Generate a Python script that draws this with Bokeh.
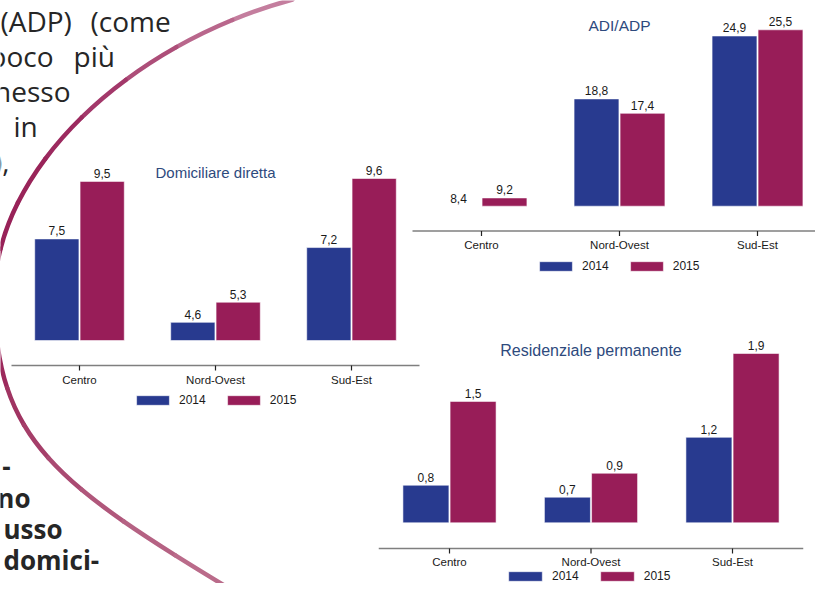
from bokeh.plotting import figure
from bokeh.models import Range1d, Legend, LegendItem, ColumnDataSource
from bokeh.core.properties import value
from bokeh.embed import file_html
from bokeh.resources import INLINE

# ---------------- data ----------------
categories = ["Centro", "Nord-Ovest", "Sud-Est"]
years = ["2014", "2015"]

dom_title = "Domiciliare diretta"
dom_2014 = [7.5, 4.6, 7.2]
dom_2015 = [9.5, 5.3, 9.6]

adi_title = "ADI/ADP"
adi_2014 = [8.4, 18.8, 24.9]
adi_2015 = [9.2, 17.4, 25.5]

res_title = "Residenziale permanente"
res_2014 = [0.8, 0.7, 1.2]
res_2015 = [1.5, 0.9, 1.9]

# background page text (fragments of the surrounding document)
para_words = ["(ADP)", "(come", "poco", "più", "nesso", "in", "),"]
bold_words = ["-", "no", "usso", "domici-"]

# ---------------- style ----------------
BLUE = "#283a8f"
MAGENTA = "#981d58"
TITLE_C = "#2e4a7d"
TXT = "#1a1a1a"
ARIAL = value("Liberation Sans")
OPEN = value("Open Sans")

W, H = 815, 583
PX_L, PX_R, PX_T, PX_B = 0, W, 0, H

p = figure(width=W, height=H, output_backend="svg", toolbar_location=None,
           x_range=Range1d(PX_L, PX_R), y_range=Range1d(PX_B, PX_T),
           x_axis_type=None, y_axis_type=None, min_border=0)
p.grid.visible = False
p.outline_line_color = None
p.background_fill_color = "white"
p.border_fill_color = "white"


def span_range(px_a, v_a, px_b, v_b, px_lo, px_hi):
    k = (v_b - v_a) / (px_b - px_a)
    return Range1d(start=v_a + (px_lo - px_a) * k, end=v_a + (px_hi - px_a) * k)


# ---------------- decorative arc (page design) ----------------
def lerp(a, b, t):
    return (a[0] + (b[0] - a[0]) * t, a[1] + (b[1] - a[1]) * t)


def split(c, t):
    a = lerp(c[0], c[1], t); b = lerp(c[1], c[2], t); d = lerp(c[2], c[3], t)
    e = lerp(a, b, t); f = lerp(b, d, t); g = lerp(e, f, t)
    return [c[0], a, e, g], [g, f, d, c[3]]


def piece(c, t0, t1):
    left, _ = split(c, t1)
    if t0 <= 0:
        return left
    _, right = split(left, t0 / t1)
    return right


arc_top = [(292, -1), (127, 44), (-6, 170), (-6, 295)]
arc_bot = [(-6, 295), (-6, 440), (57, 484), (237, 593)]
arc_cols = ["#c47e9e", "#b9678c", "#ad4e79", "#a3386a", "#9c2a5f", "#992459", "#982258", "#992459",
            "#9a2459", "#9c295c", "#a03462", "#a53e69", "#aa4a72", "#b0577b", "#b56283", "#ba6b8a"]
segs = []
n = 8
for curve in (arc_top, arc_bot):
    for k in range(n):
        segs.append(piece(curve, k / n, (k + 1) / n))
arc_src = ColumnDataSource(dict(
    x0=[s[0][0] for s in segs], y0=[s[0][1] for s in segs],
    cx0=[s[1][0] for s in segs], cy0=[s[1][1] for s in segs],
    cx1=[s[2][0] for s in segs], cy1=[s[2][1] for s in segs],
    x1=[s[3][0] for s in segs], y1=[s[3][1] for s in segs],
    c=arc_cols))
p.bezier(x0="x0", y0="y0", x1="x1", y1="y1", cx0="cx0", cy0="cy0", cx1="cx1", cy1="cy1",
         source=arc_src, line_color="c", line_width=4.5, line_cap="round")

# ---------------- background paragraph text ----------------
para_x = [0, 90, 53, 73, 70, 13, 9]
para_y = [20, 20, 55, 55, 90, 125, 160]
para_al = ["left", "left", "right", "left", "right", "left", "right"]
p.text(x=para_x, y=para_y, text=para_words, text_align=para_al, text_baseline="middle",
       text_font=OPEN, text_font_size="28px", text_color="#262626")

bold_x = [10, 30, 3, 3]
bold_y = [466, 497, 528, 559]
bold_al = ["right", "right", "left", "left"]
p.text(x=bold_x, y=bold_y, text=bold_words, text_align=bold_al, text_baseline="middle",
       text_font=OPEN, text_font_size="26px", text_font_style="bold", text_color="#262626")

# ---------------- the three bar charts ----------------
charts = [
    dict(key="dom", title=dom_title, v14=dom_2014, v15=dom_2015,
         x_first=79, x_last=351, base=3.97, base_px=340, ref_val=9.6, ref_px=178,
         axis_px=365, cat_px=379, title_px=172, title_size="15px", cat_size="11.5px",
         legend=(132, 407), glyph_w=41, spacing=17),
    dict(key="adi", title=adi_title, v14=adi_2014, v15=adi_2015,
         x_first=481, x_last=757, base=8.4, base_px=205.7, ref_val=25.5, ref_px=29.3,
         axis_px=230.5, cat_px=244, title_px=25, title_size="15.5px", cat_size="11.5px",
         legend=(535, 273), glyph_w=41, spacing=17),
    dict(key="res", title=res_title, v14=res_2014, v15=res_2015,
         x_first=449, x_last=732, base=0.486, base_px=522.3, ref_val=1.9, ref_px=353,
         axis_px=548, cat_px=561.5, title_px=350, title_size="16px", cat_size="11.5px",
         legend=(504, 583), glyph_w=42, spacing=17),
]

DODGE = 1 / 6
BAR_W = 0.325
LABEL_LIFT = -8   # screen px; negative lifts the value label above the bar top


def fmt(v):
    return f"{v:.1f}".replace(".", ",")


for ch in charts:
    xn, yn = "x_" + ch["key"], "y_" + ch["key"]
    ncat = len(categories)
    p.extra_x_ranges[xn] = span_range(ch["x_first"], 0, ch["x_last"], ncat - 1, PX_L, PX_R)
    p.extra_y_ranges[yn] = span_range(ch["base_px"], ch["base"], ch["ref_px"], ch["ref_val"], PX_B, PX_T)
    idx = list(range(ncat))
    xs14 = [i - DODGE for i in idx]
    xs15 = [i + DODGE for i in idx]

    # category axis line, ticks and labels
    p.segment(x0=[-0.5], x1=[ncat - 0.5], y0=[ch["axis_px"]], y1=[ch["axis_px"]],
              x_range_name=xn, line_color="#7f7f7f", line_width=1.6)
    p.segment(x0=idx, x1=idx, y0=[ch["axis_px"]] * ncat, y1=[ch["axis_px"] + 5] * ncat,
              x_range_name=xn, line_color="#222222", line_width=1.2)
    p.text(x=idx, y=[ch["cat_px"]] * ncat, text=categories, x_range_name=xn,
           text_align="center", text_baseline="middle", text_font=ARIAL,
           text_font_size=ch["cat_size"], text_color=TXT)

    # bars
    r14 = p.vbar(x=xs14, top=ch["v14"], bottom=ch["base"], width=BAR_W,
                 x_range_name=xn, y_range_name=yn, fill_color=BLUE,
                 line_color="white", line_alpha=0.55, line_width=1)
    r15 = p.vbar(x=xs15, top=ch["v15"], bottom=ch["base"], width=BAR_W,
                 x_range_name=xn, y_range_name=yn, fill_color=MAGENTA,
                 line_color="white", line_alpha=0.55, line_width=1)

    # value labels
    for xs, vals in ((xs14, ch["v14"]), (xs15, ch["v15"])):
        p.text(x=xs, y=vals, text=[fmt(v) for v in vals], x_range_name=xn, y_range_name=yn,
               y_offset=LABEL_LIFT, text_align="center", text_baseline="middle",
               text_font=ARIAL, text_font_size="12px", text_color=TXT)

    # chart title
    p.text(x=[(ncat - 1) / 2], y=[ch["title_px"]], text=[ch["title"]], x_range_name=xn,
           text_align="center", text_baseline="middle", text_font=ARIAL,
           text_font_size=ch["title_size"], text_color=TITLE_C)

    # legend
    lx, lb = ch["legend"]
    leg = Legend(items=[LegendItem(label=years[0], renderers=[r14]),
                        LegendItem(label=years[1], renderers=[r15])],
                 orientation="horizontal", location=(lx - PX_L, PX_B - lb),
                 glyph_width=ch["glyph_w"], glyph_height=12, label_height=12, label_width=10,
                 label_standoff=6, spacing=ch["spacing"], padding=0, margin=0,
                 border_line_color=None, background_fill_alpha=0,
                 label_text_font="Liberation Sans", label_text_font_size="12px",
                 label_text_color=TXT, label_text_baseline="middle")
    p.add_layout(leg)

open("out.html", "w").write(file_html(p, INLINE))
